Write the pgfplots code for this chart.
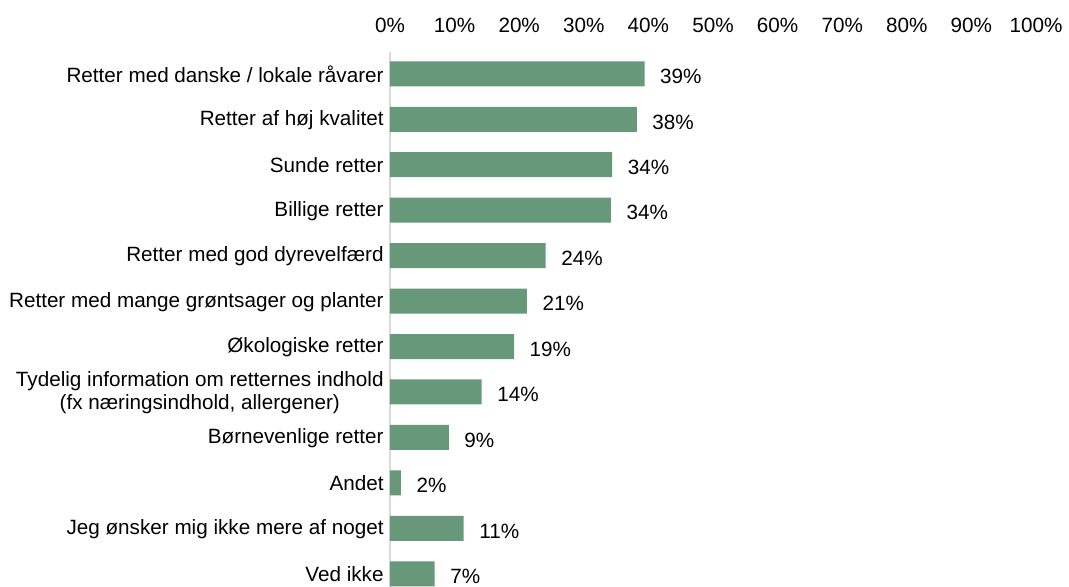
\documentclass[border=0pt]{standalone}
\usepackage{pgfplots}
\pgfplotsset{compat=1.18}
\usepackage{fontspec}
\setmainfont{Liberation Sans}
\definecolor{bargreen}{HTML}{669879}
\definecolor{axgray}{HTML}{D9D9D9}
\begin{document}
\begin{tikzpicture}
\begin{axis}[
    xbar,
    scale only axis,
    width=484.5pt, height=401.25pt,
    xmin=0, xmax=100,
    ymin=-0.48, ymax=11.29,
    y dir=reverse,
    bar width=0.55,
    axis x line*=top,
    axis y line*=left,
    x axis line style={draw=none},
    y axis line style={draw=axgray, line width=1.1pt},
    tick style={draw=none},
    xtick={0,10,...,100},
    xticklabel={\pgfmathprintnumber{\tick}\%},
    xticklabel style={yshift=11pt},
    ytick={0,...,11},
    yticklabels={
        Retter med danske / lokale råvarer,
        Retter af høj kvalitet,
        Sunde retter,
        Billige retter,
        Retter med god dyrevelfærd,
        Retter med mange grøntsager og planter,
        Økologiske retter,
        {Tydelig information om retternes indhold\\(fx næringsindhold, allergener)},
        Børnevenlige retter,
        Andet,
        Jeg ønsker mig ikke mere af noget,
        Ved ikke},
    yticklabel style={align=center, xshift=3pt, yshift=-0.5pt},
    /pgf/number format/assume math mode=true,
    every tick label/.append style={font=\fontsize{15.5}{17.5}\selectfont},
    nodes near coords={\pgfmathprintnumber[fixed,precision=0]{\pgfplotspointmeta}\%},
    nodes near coords style={anchor=west, xshift=8.25pt, yshift=-2pt, font=\fontsize{15.5}{17.5}\selectfont},
    clip=false,
]
\addplot[fill=bargreen, draw=none] coordinates {
    (39.4,0) (38.2,1) (34.4,2) (34.2,3) (24.1,4) (21.2,5)
    (19.2,6) (14.2,7) (9.1,8) (1.7,9) (11.4,10) (6.9,11)
};
\end{axis}
\pgfresetboundingbox
\path ([shift={(-292.5pt,0pt)}]current axis.south west) rectangle ([shift={(24.75pt,39pt)}]current axis.north east);
\end{tikzpicture}
\end{document}
